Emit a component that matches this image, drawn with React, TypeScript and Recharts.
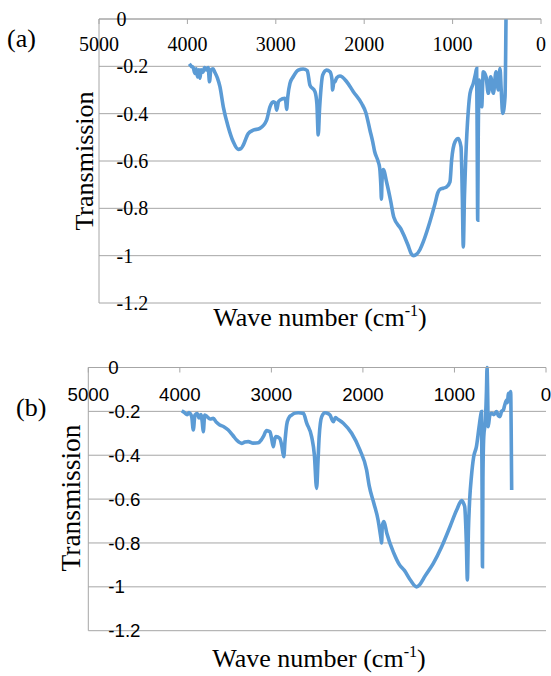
import { CartesianGrid, Line, LineChart, XAxis, YAxis } from "recharts";

const X_TICKS = [5000, 4000, 3000, 2000, 1000, 0];
const Y_TICKS = [0, -0.2, -0.4, -0.6, -0.8, -1, -1.2];

// panel (a) spectrum
const waveA = [
  3979, 3955, 3935, 3915, 3900, 3885, 3870, 3858, 3845, 3825,
  3805, 3785, 3765, 3750, 3735, 3710, 3690, 3660, 3632, 3594,
  3538, 3481, 3425, 3395, 3368, 3312, 3255, 3180, 3104, 3066,
  3029, 3005, 2991, 2970, 2953, 2897, 2885, 2878, 2865, 2840,
  2803, 2746, 2690, 2644, 2614, 2557, 2535, 2520, 2505, 2493,
  2470, 2425, 2387, 2365, 2357, 2345, 2331, 2310, 2274, 2198,
  2123, 2029, 1982, 1935, 1903, 1882, 1844, 1825, 1812, 1805,
  1798, 1784, 1745, 1700, 1665, 1585, 1505, 1470, 1440, 1410,
  1370, 1330, 1275, 1199, 1166, 1143, 1107, 1067, 1030, 1011,
  973, 936, 905, 890, 879, 866, 852, 822, 803, 766,
  740, 728, 722, 716, 710, 698, 671, 653, 622, 596,
  569, 539, 509, 483, 464, 450, 433, 407, 396,
];
const transA = [
  -0.19, -0.2, -0.205, -0.23, -0.21, -0.245, -0.215, -0.25, -0.215, -0.225,
  -0.205, -0.215, -0.205, -0.265, -0.215, -0.21, -0.225, -0.25, -0.286, -0.371,
  -0.456, -0.519, -0.551, -0.548, -0.533, -0.484, -0.47, -0.462, -0.427, -0.371,
  -0.35, -0.355, -0.385, -0.35, -0.343, -0.335, -0.355, -0.382, -0.33, -0.272,
  -0.244, -0.216, -0.211, -0.218, -0.279, -0.307, -0.36, -0.49, -0.38, -0.314,
  -0.237, -0.216, -0.223, -0.255, -0.3, -0.27, -0.265, -0.248, -0.241, -0.265,
  -0.307, -0.357, -0.395, -0.47, -0.52, -0.56, -0.6, -0.629, -0.7, -0.761,
  -0.68, -0.636, -0.692, -0.77, -0.838, -0.887, -0.955, -0.99, -1.0, -0.995,
  -0.975, -0.94, -0.879, -0.78, -0.733, -0.72, -0.715, -0.709, -0.688, -0.596,
  -0.519, -0.505, -0.54, -0.75, -0.963, -0.75, -0.596, -0.385, -0.314, -0.272,
  -0.23, -0.209, -0.5, -0.85, -0.5, -0.258, -0.371, -0.223, -0.244, -0.314,
  -0.244, -0.314, -0.223, -0.3, -0.209, -0.3, -0.399, -0.329, 0,
];

// panel (b) spectrum
const waveB = [
  3980, 3950, 3920, 3900, 3889, 3870, 3853, 3835, 3810, 3790,
  3770, 3755, 3744, 3728, 3700, 3670, 3635, 3600, 3564, 3520,
  3471, 3420, 3380, 3325, 3290, 3252, 3200, 3143, 3110, 3088,
  3052, 3030, 3016, 2995, 2979, 2965, 2950, 2909, 2885, 2865,
  2850, 2833, 2810, 2779, 2740, 2706, 2651, 2614, 2560, 2530,
  2506, 2490, 2478, 2450, 2414, 2380, 2360, 2335, 2323, 2300,
  2287, 2214, 2123, 2033, 1960, 1931, 1880, 1835, 1803, 1796,
  1788, 1770, 1739, 1662, 1600, 1547, 1480, 1413, 1380, 1320,
  1231, 1140, 1049, 976, 921, 900, 888, 870, 859, 848,
  834, 815, 790, 760, 731, 712, 705, 699, 694, 689,
  680, 662, 650, 644, 638, 631, 615, 594, 570, 540,
  520, 503, 485, 466, 450, 430, 420, 412, 398, 386,
  380, 375,
];
const transB = [
  -0.197, -0.205, -0.215, -0.205, -0.209, -0.225, -0.285, -0.217, -0.21, -0.23,
  -0.215, -0.25, -0.293, -0.217, -0.225, -0.235, -0.232, -0.25, -0.262, -0.27,
  -0.285, -0.31, -0.331, -0.346, -0.34, -0.338, -0.345, -0.343, -0.33, -0.315,
  -0.288, -0.29, -0.293, -0.33, -0.361, -0.33, -0.315, -0.323, -0.36, -0.407,
  -0.33, -0.262, -0.23, -0.217, -0.208, -0.206, -0.209, -0.254, -0.316, -0.4,
  -0.551, -0.42, -0.316, -0.224, -0.206, -0.21, -0.217, -0.24, -0.247, -0.228,
  -0.232, -0.254, -0.3, -0.376, -0.467, -0.54, -0.62, -0.694, -0.78, -0.8,
  -0.72, -0.702, -0.756, -0.847, -0.9, -0.925, -0.97, -1.0, -0.99, -0.95,
  -0.893, -0.817, -0.726, -0.65, -0.607, -0.62, -0.635, -0.8, -0.969, -0.75,
  -0.604, -0.498, -0.407, -0.361, -0.27, -0.215, -0.201, -0.5, -0.908, -0.5,
  -0.316, -0.239, -0.1, 0, -0.1, -0.27, -0.22, -0.209, -0.215, -0.201,
  -0.22, -0.224, -0.2, -0.194, -0.17, -0.148, -0.16, -0.118, -0.13, -0.11,
  -0.3, -0.559,
];

const LINE_COLOR = "#5b9bd5";
const GRID_COLOR = "#a6a6a6";
const SERIF = "Liberation Serif";
const SANS = "Liberation Sans";

type SpectrumProps = {
  waves: number[];
  values: number[];
  top: number;
  height: number;
  margin: { top: number; right: number; bottom: number; left: number };
  font: string;
  fontSize: number;
  xGap: number;
  yGap: number;
};

function Spectrum({ waves, values, top, height, margin, font, fontSize, xGap, yGap }: SpectrumProps) {
  const data = waves.map((w, i) => ({ w, t: values[i] }));

  const xTick = (props: any) => (
    <text
      x={props.x}
      y={props.y}
      dy={fontSize * 0.71}
      textAnchor="middle"
      fontFamily={font}
      fontSize={fontSize}
      fill="#000"
    >
      {props.payload.value}
    </text>
  );

  const yTick = (props: any) => (
    <text
      x={props.x}
      y={props.y}
      dy={fontSize * 0.35}
      textAnchor="start"
      fontFamily={font}
      fontSize={fontSize}
      fill="#000"
    >
      {String(props.payload.value)}
    </text>
  );

  return (
    <div style={{ position: "absolute", left: 0, top }}>
      <LineChart width={551} height={height} data={data} margin={margin}>
        <CartesianGrid vertical={false} stroke={GRID_COLOR} />
        <XAxis
          type="number"
          dataKey="w"
          domain={[0, 5000]}
          ticks={X_TICKS}
          interval={0}
          reversed
          orientation="top"
          mirror
          tickSize={5}
          tickMargin={xGap}
          stroke={GRID_COLOR}
          tick={xTick}
        />
        <YAxis
          type="number"
          domain={[-1.2, 0]}
          ticks={Y_TICKS}
          interval={0}
          mirror
          tickLine={false}
          tickSize={0}
          tickMargin={yGap}
          stroke={GRID_COLOR}
          tick={yTick}
        />
        <Line
          dataKey="t"
          type="monotone"
          stroke={LINE_COLOR}
          strokeWidth={3.6}
          dot={false}
          isAnimationActive={false}
        />
      </LineChart>
    </div>
  );
}

function WaveTitle({ x, y, size }: { x: number; y: number; size: number }) {
  return (
    <text x={x} y={y} textAnchor="middle" fontFamily={SERIF} fontSize={size} fill="#000">
      Wave number (cm
      <tspan dy={-size * 0.4} fontSize={size * 0.62}>-1</tspan>
      <tspan dy={size * 0.4}>)</tspan>
    </text>
  );
}

export default function App() {
  return (
    <div style={{ position: "absolute", left: 0, top: 0, width: 551, height: 676, background: "#fff" }}>
      <Spectrum
        waves={waveA}
        values={transA}
        top={0}
        height={340}
        margin={{ top: 19, right: 10, bottom: 37, left: 99 }}
        font={SERIF}
        fontSize={20}
        xGap={12.6}
        yGap={17.5}
      />
      <Spectrum
        waves={waveB}
        values={transB}
        top={340}
        height={336}
        margin={{ top: 27.5, right: 5, bottom: 45.3, left: 88.3 }}
        font={SANS}
        fontSize={18.7}
        xGap={14.8}
        yGap={20}
      />
      <svg
        width={551}
        height={676}
        style={{ position: "absolute", left: 0, top: 0, pointerEvents: "none" }}
      >
        <text x={7} y={47} fontFamily={SERIF} fontSize={26} fill="#000">(a)</text>
        <text
          transform="translate(93,161) rotate(-90)"
          textAnchor="middle"
          fontFamily={SERIF}
          fontSize={26}
          fill="#000"
        >
          Transmission
        </text>
        <WaveTitle x={320} y={326} size={26} />

        <text x={16} y={416} fontFamily={SERIF} fontSize={26} fill="#000">(b)</text>
        <text
          transform="translate(80,498) rotate(-90)"
          textAnchor="middle"
          fontFamily={SERIF}
          fontSize={27.5}
          fill="#000"
        >
          Transmission
        </text>
        <WaveTitle x={319} y={667} size={26} />
      </svg>
    </div>
  );
}
